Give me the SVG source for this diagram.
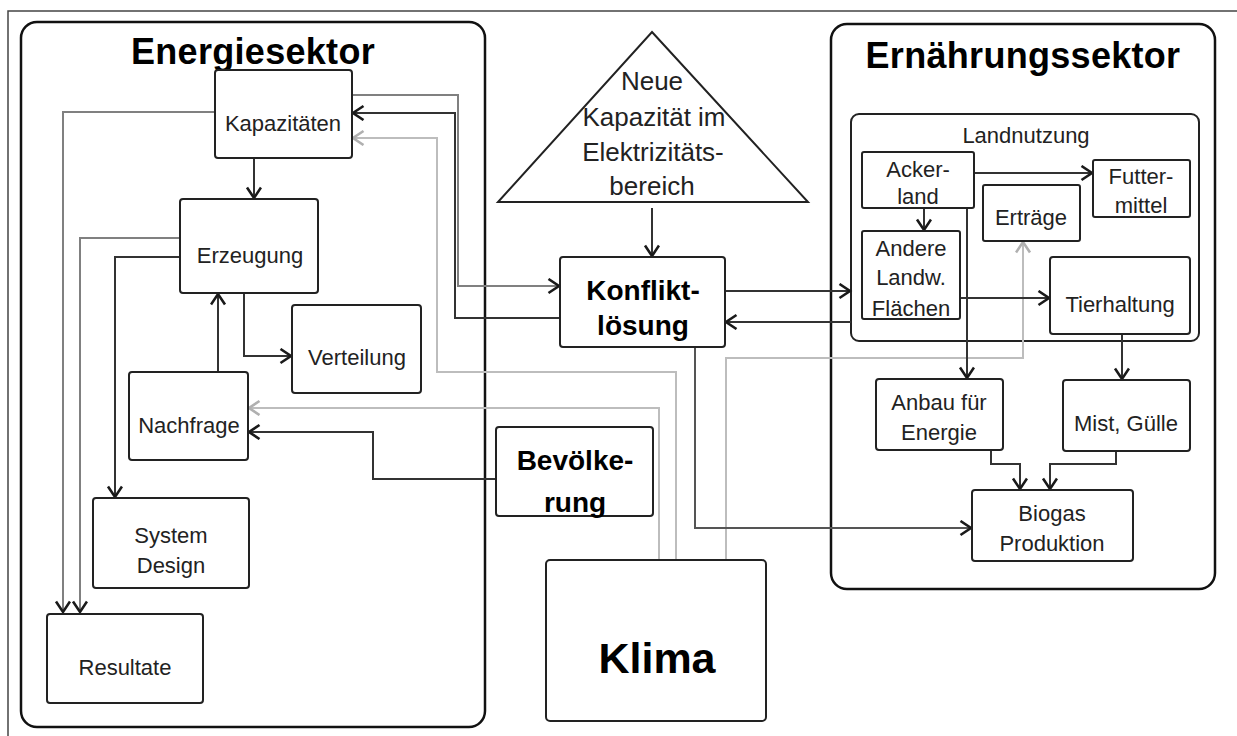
<svg xmlns="http://www.w3.org/2000/svg" width="1237" height="736" viewBox="0 0 1237 736">
<defs>
<style>
.box{fill:#fff;stroke:#222;stroke-width:2}
.cont{fill:#fff;stroke:#111;stroke-width:2.5}
.t{font-family:"Liberation Sans",Arial,sans-serif;font-size:22px;fill:#222;text-anchor:middle}
.tri{font-family:"Liberation Sans",Arial,sans-serif;font-size:26px;fill:#222;text-anchor:middle}
.b{font-family:"Liberation Sans",Arial,sans-serif;font-weight:bold;fill:#000;text-anchor:middle}
.d{fill:none;stroke:#333;stroke-width:2}
.m{fill:none;stroke:#808080;stroke-width:2}
.l{fill:none;stroke:#bdbdbd;stroke-width:2}
</style>
<marker id="ad" markerUnits="userSpaceOnUse" markerWidth="16" markerHeight="18" refX="12" refY="8" orient="auto">
<path d="M1.5,1 L12,8 L1.5,15" fill="none" stroke="#1a1a1a" stroke-width="2.6"/>
</marker>
<marker id="al" markerUnits="userSpaceOnUse" markerWidth="16" markerHeight="18" refX="12" refY="8" orient="auto">
<path d="M1.5,1 L12,8 L1.5,15" fill="none" stroke="#b0b0b0" stroke-width="2.6"/>
</marker>
</defs>
<rect width="1237" height="736" fill="#fff"/>
<rect x="8" y="11" width="1240" height="740" fill="none" stroke="#444" stroke-width="1.5"/>

<g id="energiesektor">
<rect class="cont" x="21" y="22" width="464" height="705" rx="16"/>
<text class="b" x="253" y="64" font-size="36" letter-spacing="0.3">Energiesektor</text>
</g>
<g id="ernaehrungssektor">
<rect class="cont" x="831" y="24" width="384" height="565" rx="16"/>
<text class="b" x="1023" y="68" font-size="36" letter-spacing="0.3">Ernährungssektor</text>
</g>
<g id="landnutzung">
<rect class="box" x="851" y="114" width="348" height="227" rx="8"/>
<text class="t" x="1026" y="143">Landnutzung</text>
</g>

<g id="connectors">
<path class="m" d="M215,112 H63 V612" marker-end="url(#ad)"/>
<path class="m" d="M180,238 H80 V612" marker-end="url(#ad)"/>
<path class="d" d="M254,158 V198" marker-end="url(#ad)"/>
<path class="d" d="M180,257 H115 V497" marker-end="url(#ad)"/>
<path class="d" d="M218,372 V294" marker-end="url(#ad)"/>
<path class="d" d="M244,293 V356 H291" marker-end="url(#ad)"/>
<path class="m" d="M352,95 H458 V286 H559" marker-end="url(#ad)"/>
<path class="d" d="M560,318 H455 V113 H353" marker-end="url(#ad)"/>
<path class="l" d="M676,560 V372 H437 V138 H353" marker-end="url(#al)"/>
<path class="l" d="M659,560 V408 H249" marker-end="url(#al)"/>
<path class="d" d="M496,479 H373 V432 H249" marker-end="url(#ad)"/>
<path class="d" d="M652,208 V256" marker-end="url(#ad)"/>
<path class="d" d="M725,291 H850" marker-end="url(#ad)"/>
<path class="d" d="M851,322 H726" marker-end="url(#ad)"/>
<path class="l" d="M726,560 V358 H1023 V242" marker-end="url(#al)"/>
<path class="d" d="M695,347 V528 H971" marker-end="url(#ad)" style="stroke:#555"/>
<path class="d" d="M974,173 H1092" marker-end="url(#ad)"/>
<path class="d" d="M924,208 V230" marker-end="url(#ad)"/>
<path class="d" d="M960,298 H1049" marker-end="url(#ad)"/>
<path class="d" d="M967,208 V378" marker-end="url(#ad)"/>
<path class="d" d="M1122,334 V379" marker-end="url(#ad)"/>
<path class="d" d="M991,450 V464 H1020 V489" marker-end="url(#ad)"/>
<path class="d" d="M1116,451 V464 H1050 V489" marker-end="url(#ad)"/>
</g>

<g id="kapazitaeten">
<rect class="box" x="215" y="70" width="137" height="88" rx="3"/>
<text class="t" x="283" y="131">Kapazitäten</text>
</g>
<g id="erzeugung">
<rect class="box" x="180" y="199" width="138" height="94" rx="3"/>
<text class="t" x="250" y="263">Erzeugung</text>
</g>
<g id="verteilung">
<rect class="box" x="292" y="305" width="129" height="88" rx="3"/>
<text class="t" x="357" y="365">Verteilung</text>
</g>
<g id="nachfrage">
<rect class="box" x="129" y="372" width="119" height="88" rx="3"/>
<text class="t" x="189" y="433">Nachfrage</text>
</g>
<g id="systemdesign">
<rect class="box" x="93" y="498" width="156" height="90" rx="3"/>
<text class="t" x="171" y="543">System</text>
<text class="t" x="171" y="573">Design</text>
</g>
<g id="resultate">
<rect class="box" x="47" y="614" width="156" height="89" rx="3"/>
<text class="t" x="125" y="675">Resultate</text>
</g>

<g id="neuekapazitaet">
<polygon points="652,32 808,202 498,202" fill="#fff" stroke="#222" stroke-width="2"/>
<text class="tri" x="652" y="90">Neue</text>
<text class="tri" x="654" y="126">Kapazität im</text>
<text class="tri" x="653" y="161">Elektrizitäts-</text>
<text class="tri" x="652" y="195">bereich</text>
</g>
<g id="konfliktloesung">
<rect class="box" x="560" y="257" width="165" height="90" rx="3"/>
<text class="b" x="643" y="300" font-size="28">Konflikt-</text>
<text class="b" x="643" y="335" font-size="28">lösung</text>
</g>
<g id="bevoelkerung">
<rect class="box" x="496" y="427" width="157" height="89" rx="3"/>
<text class="b" x="575" y="470" font-size="28">Bevölke-</text>
<text class="b" x="575" y="512" font-size="28">rung</text>
</g>
<g id="klima">
<rect class="box" x="546" y="560" width="220" height="161" rx="4"/>
<text class="b" x="657" y="673" font-size="43">Klima</text>
</g>

<g id="ackerland">
<rect class="box" x="862" y="152" width="112" height="56" rx="2"/>
<text class="t" x="918" y="177">Acker-</text>
<text class="t" x="918" y="204">land</text>
</g>
<g id="anderelandw">
<rect class="box" x="862" y="231" width="98" height="88" rx="2"/>
<text class="t" x="911" y="256">Andere</text>
<text class="t" x="911" y="285">Landw.</text>
<text class="t" x="911" y="316">Flächen</text>
</g>
<g id="ertraege">
<rect class="box" x="983" y="185" width="97" height="56" rx="2"/>
<text class="t" x="1031" y="225">Erträge</text>
</g>
<g id="futtermittel">
<rect class="box" x="1093" y="160" width="97" height="57" rx="2"/>
<text class="t" x="1141" y="184">Futter-</text>
<text class="t" x="1141" y="213">mittel</text>
</g>
<g id="tierhaltung">
<rect class="box" x="1050" y="257" width="140" height="77" rx="3"/>
<text class="t" x="1120" y="312">Tierhaltung</text>
</g>
<g id="anbauenergie">
<rect class="box" x="876" y="379" width="127" height="71" rx="3"/>
<text class="t" x="939" y="410">Anbau für</text>
<text class="t" x="939" y="440">Energie</text>
</g>
<g id="mistguelle">
<rect class="box" x="1063" y="380" width="127" height="71" rx="3"/>
<text class="t" x="1126" y="431">Mist, Gülle</text>
</g>
<g id="biogas">
<rect class="box" x="972" y="490" width="161" height="71" rx="3"/>
<text class="t" x="1052" y="521">Biogas</text>
<text class="t" x="1052" y="551">Produktion</text>
</g>
</svg>
